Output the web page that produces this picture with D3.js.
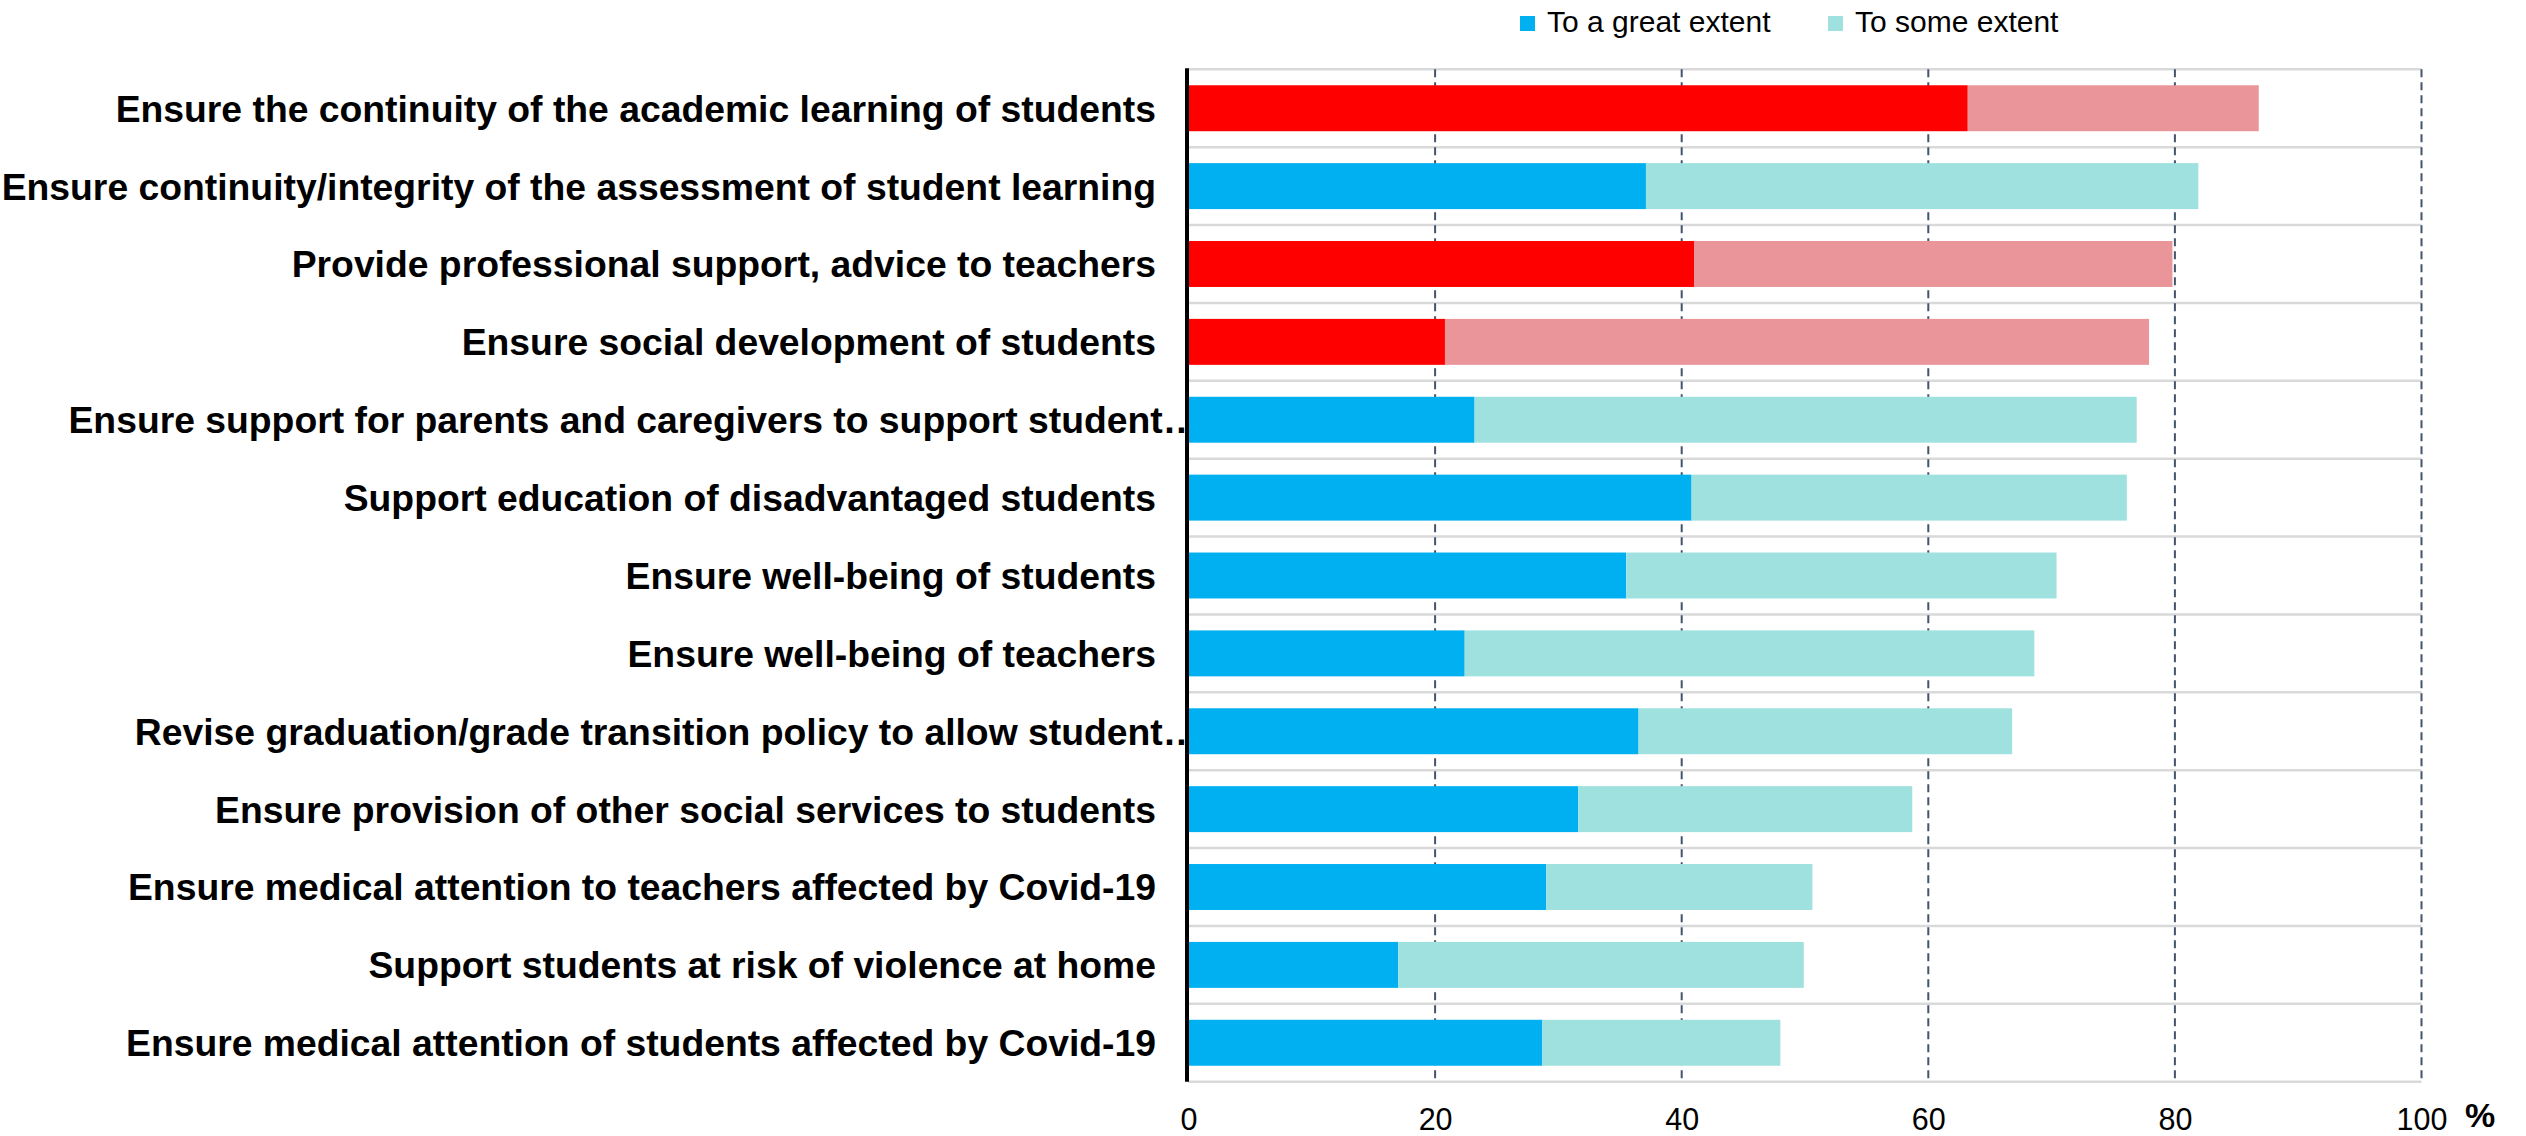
<!DOCTYPE html>
<html>
<head>
<meta charset="utf-8">
<script src="https://cdn.jsdelivr.net/npm/d3@7"></script>
<style>
  html, body { margin: 0; padding: 0; background: #fff; }
  svg { display: block; font-family: "Liberation Sans", Arial, sans-serif; }
</style>
</head>
<body>
<svg id="chart" width="2526" height="1136"></svg>
<script>
const categories = [
  "Ensure the continuity of the academic learning of students",
  "Ensure continuity/integrity of the assessment of student learning",
  "Provide professional support, advice to teachers",
  "Ensure social development of students",
  "Ensure support for parents and caregivers to support student\u2026",
  "Support education of disadvantaged students",
  "Ensure well-being of students",
  "Ensure well-being of teachers",
  "Revise graduation/grade transition policy to allow student\u2026",
  "Ensure provision of other social services to students",
  "Ensure medical attention to teachers affected by Covid-19",
  "Support students at risk of violence at home",
  "Ensure medical attention of students affected by Covid-19"
];
const greatExtent = [63.2, 37.1, 41.0, 20.8, 23.2, 40.8, 35.5, 22.4, 36.5, 31.6, 29.0, 17.0, 28.7];
const someExtent  = [23.6, 44.8, 38.8, 57.1, 53.7, 35.3, 34.9, 46.2, 30.3, 27.1, 21.6, 32.9, 19.3];
const highlighted = [
  "Ensure the continuity of the academic learning of students",
  "Provide professional support, advice to teachers",
  "Ensure social development of students"
];
const seriesNames = ["To a great extent", "To some extent"];
const xTicks = [0, 20, 40, 60, 80, 100];

(function () {
const colors = {
  normal: ["#00B0F0", "#9EE1DF"],
  highlight: ["#FF0000", "#E9959A"]
};

const svg = d3.select("#chart");
const pLeft = 1188.5, pRight = 2421.5, pTop = 69.3, pBottom = 1081.7;

const x = d3.scaleLinear().domain([0, 100]).range([pLeft, pRight]);
const y = d3.scaleBand().domain(categories).range([pTop, pBottom])
  .paddingInner(0.41).paddingOuter(0.205);

const rows = categories.map((c, i) => ({ cat: c, great: greatExtent[i], some: someExtent[i] }));
const stacked = d3.stack().keys(["great", "some"])(rows);

// horizontal row separators
const edges = categories.map(c => y(c) - y.step() * y.paddingInner() / 2);
edges.push(pBottom);
svg.append("g").selectAll("line").data(edges).join("line")
  .attr("x1", pLeft).attr("x2", pRight)
  .attr("y1", d => d).attr("y2", d => d)
  .attr("stroke", "#D9D9D9").attr("stroke-width", 2.5);

// vertical dashed gridlines
svg.append("g").selectAll("line").data(xTicks.filter(t => t > 0)).join("line")
  .attr("x1", d => x(d)).attr("x2", d => x(d))
  .attr("y1", pTop).attr("y2", pBottom)
  .attr("stroke", "#44546A").attr("stroke-width", 2)
  .attr("stroke-dasharray", "8,5");

// category labels
svg.append("g").selectAll("text").data(categories).join("text")
  .attr("x", d => d.endsWith("\u2026") ? 1200 : 1156)
  .attr("y", d => y(d) + y.bandwidth() / 2)
  .attr("dy", "0.36em")
  .attr("text-anchor", "end")
  .attr("font-size", 37.3)
  .attr("font-weight", "bold")
  .attr("fill", "#000")
  .text(d => d);

// bars
stacked.forEach((layer, li) => {
  svg.append("g").selectAll("rect").data(layer).join("rect")
    .attr("x", d => x(d[0]))
    .attr("width", d => x(d[1]) - x(d[0]))
    .attr("y", d => y(d.data.cat))
    .attr("height", y.bandwidth())
    .attr("fill", d => highlighted.includes(d.data.cat) ? colors.highlight[li] : colors.normal[li]);
});

// axis line
svg.append("line")
  .attr("x1", pLeft - 1.5).attr("x2", pLeft - 1.5)
  .attr("y1", pTop - 1).attr("y2", pBottom)
  .attr("stroke", "#000").attr("stroke-width", 4);

// x tick labels via d3 axis
const xAxis = d3.axisBottom(x).tickValues(xTicks).tickSize(0).tickPadding(0);
const gx = svg.append("g").attr("transform", "translate(0, 1108)").call(xAxis);
gx.select(".domain").remove();
gx.selectAll("text")
  .attr("font-size", 30.5)
  .attr("font-family", "'Liberation Sans', Arial, sans-serif")
  .attr("fill", "#000")
  .attr("dy", "0.71em");

// % unit
svg.append("text")
  .attr("x", 2465).attr("y", 1127)
  .attr("font-size", 34).attr("font-weight", "bold")
  .text("%");

// legend
const legendX = [1520, 1828];
const lg = svg.append("g");
seriesNames.forEach((name, i) => {
  lg.append("rect").attr("x", legendX[i]).attr("y", 16).attr("width", 15).attr("height", 15)
    .attr("fill", colors.normal[i]);
  lg.append("text").attr("x", legendX[i] + 27).attr("y", 31.5)
    .attr("font-size", 30).attr("fill", "#000").text(name);
});
})();
</script>
</body>
</html>
